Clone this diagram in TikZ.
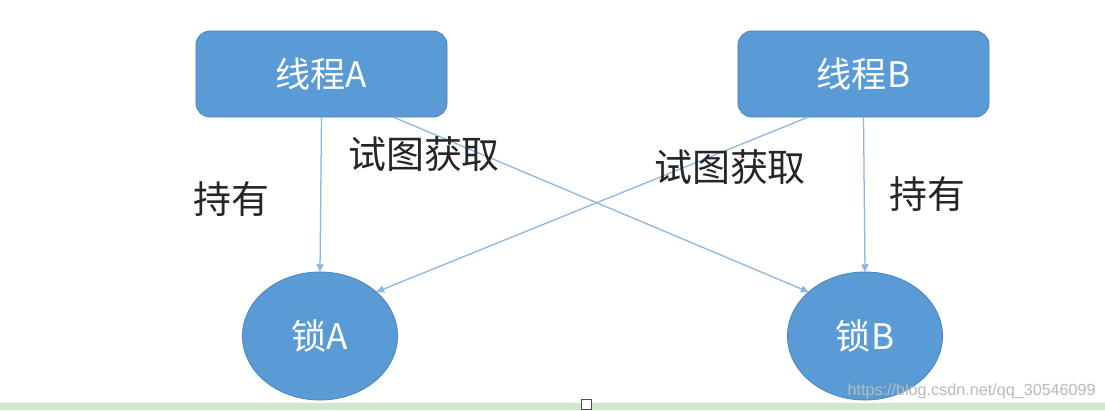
\documentclass[tikz,border=0pt]{standalone}
\usepackage{fontspec}
\setmainfont{Noto Sans CJK SC}
\newfontfamily\urlfont{Liberation Sans}
\usetikzlibrary{arrows.meta,shapes.geometric}
\definecolor{threadblue}{HTML}{5B9BD5}
\definecolor{edgeblue}{HTML}{4A86C5}
\definecolor{linkblue}{HTML}{8DB6E4}
\definecolor{stripgreen}{HTML}{D2E8CE}

\begin{document}
\begin{tikzpicture}[
  x=0.025cm, y=-0.025cm,
  link/.style={-{Triangle[length=5.5pt,width=5pt]}, draw=linkblue, line width=0.9pt},
  thread/.style={rectangle, rounded corners=0.35cm, minimum width=6.275cm,
                 minimum height=2.15cm, outer sep=0pt, fill=threadblue,
                 draw=edgeblue, line width=0.6pt, text=white,
                 font=\fontsize{25}{29}\selectfont},
  lock/.style={ellipse, minimum width=3.875cm, minimum height=3.2cm,
               inner sep=0pt, outer sep=0pt, fill=threadblue, draw=edgeblue,
               line width=0.6pt, text=white, font=\fontsize{25}{29}\selectfont},
  note/.style={text=black!85, font=\fontsize{27}{31}\selectfont, inner sep=0pt}
]
\useasboundingbox (0,0) rectangle (1105,410);
\fill[white] (0,0) rectangle (1105,410);

% threads and locks
\node[thread] (threadA) at (321.5,74) {线程A};
\node[thread] (threadB) at (863.5,74) {线程B};
\node[lock] (lockA) at (320,336) {锁A};
\node[lock] (lockB) at (865,336) {锁B};

% holding and waiting
\draw[link] (threadA.south) -- (lockA.north);
\draw[link] (threadB.south) -- (lockB.north);
\draw[link] (threadA.-31.4) -- (lockB.142);
\draw[link] (threadB.218) -- (lockA.38);

\node[note] (holdA) at (231,199) {持有};
\node[note] (tryA) at (424,154) {试图获取};
\node[note] (tryB) at (730,167) {试图获取};
\node[note] (holdB) at (927,194) {持有};

% page edge
\fill[stripgreen] (0,403) rectangle (1105,410);
\node[draw=black!70, fill=white, minimum size=0.25cm, inner sep=0pt] (marker) at (586,404) {};
\node[text=black!27, font=\urlfont\fontsize{11.5}{13}\selectfont, anchor=east, inner sep=0pt] (source) at (1096,391) {https://blog.csdn.net/qq\_30546099};
\end{tikzpicture}
\end{document}
